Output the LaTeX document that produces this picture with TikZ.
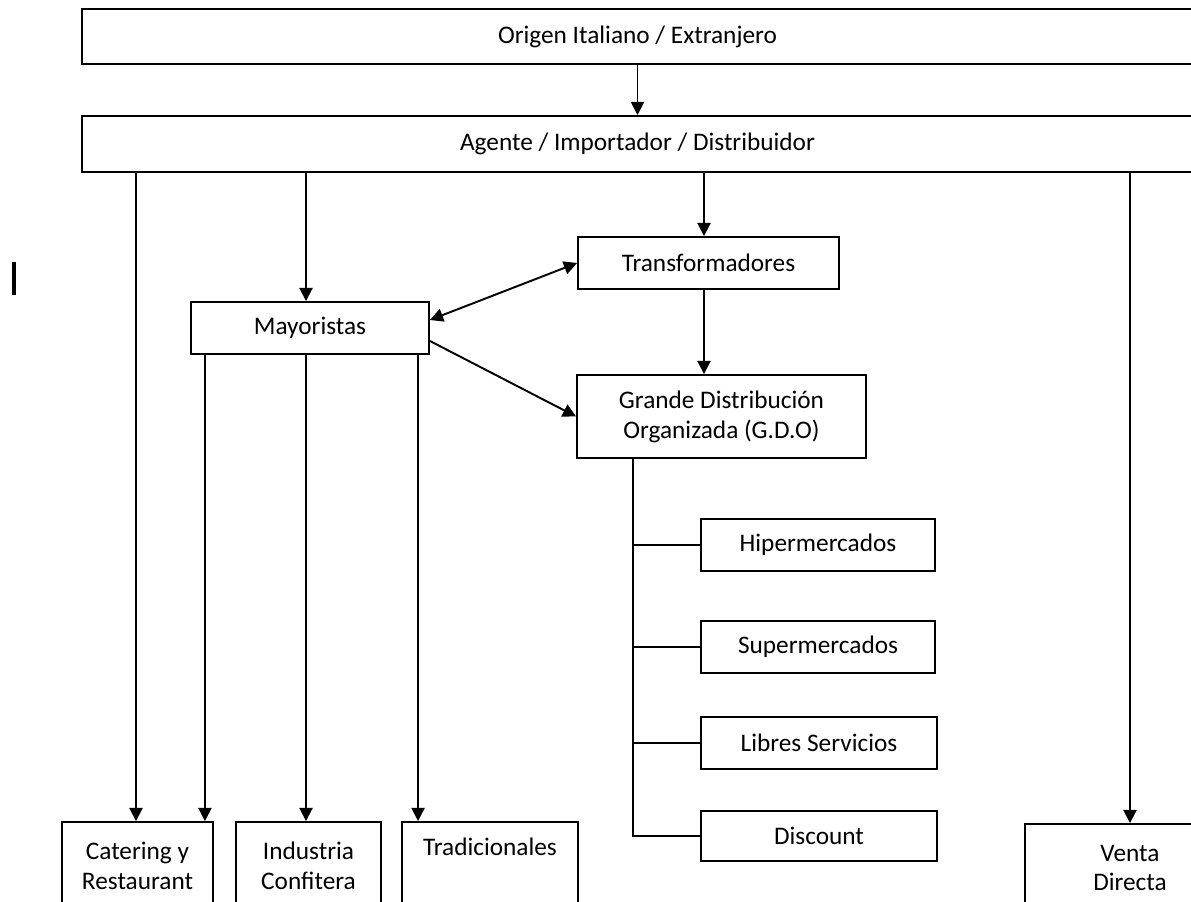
\documentclass[tikz,border=0pt]{standalone}
\usepackage{fontspec}
\setmainfont{Carlito}
\usetikzlibrary{arrows.meta}

\begin{document}
\begin{tikzpicture}[
        x=0.02cm, y=-0.02cm,
        box/.style={draw, rectangle, inner sep=0pt, align=center, line width=1.1pt, font=\fontsize{14.4}{17}\selectfont},
        flecha/.style={line width=1.1pt, -{Triangle[length=7.5pt, width=7.5pt]}},
        doble/.style={line width=1.1pt, {Triangle[length=7.5pt, width=7.5pt]}-{Triangle[length=7.5pt, width=7.5pt]}},
        linea/.style={line width=1.1pt}
    ]
    \useasboundingbox (0,0) rectangle (1191,902);
    \node[box, minimum width=22.22cm, minimum height=1.1cm] (origen) at (637.5,36.5) {Origen Italiano / Extranjero};
    \node[box, minimum width=22.22cm, minimum height=1.12cm] (agente) at (637.5,144) {Agente / Importador / Distribuidor};
    \node[box, minimum width=5.22cm, minimum height=1.04cm] (transformadores) at (708.5,263) {Transformadores};
    \node[box, minimum width=4.76cm, minimum height=1.04cm] (mayoristas) at (310,328) {Mayoristas};
    \node[box, minimum width=5.78cm, minimum height=1.66cm] (gdo) at (721.5,416.5) {Grande Distribución\\Organizada (G.D.O)};
    \node[box, minimum width=4.68cm, minimum height=1.04cm] (hiper) at (818,545) {Hipermercados};
    \node[box, minimum width=4.68cm, minimum height=1.04cm] (super) at (818,647) {Supermercados};
    \node[box, minimum width=4.72cm, minimum height=1.04cm] (libres) at (819,743) {Libres Servicios};
    \node[box, minimum width=4.72cm, minimum height=1.0cm] (discount) at (819,836) {Discount};
    \node[box, minimum width=3.02cm, minimum height=1.76cm] (catering) at (137.5,866) {Catering y\\Restaurant};
    \node[box, minimum width=2.9cm, minimum height=1.76cm] (industria) at (308.5,866) {Industria\\Confitera};
    \node[box, minimum width=3.52cm, minimum height=1.76cm] (tradicionales) at (490,866) {Tradicionales\\\strut};
    \node[box, minimum width=4.2cm, minimum height=1.76cm] (venta) at (1130,868) {Venta\\Directa};

    % flechas desde arriba
    \draw[flecha] (origen) -- (agente);
    \draw[flecha] ([xshift=-0.03cm]catering.north |- agente.south) -- ([xshift=-0.03cm]catering.north);
    \draw[flecha] ([xshift=-0.08cm]mayoristas.north |- agente.south) -- ([xshift=-0.08cm]mayoristas.north);
    \draw[flecha] ([xshift=-0.09cm]transformadores.north |- agente.south) -- ([xshift=-0.09cm]transformadores.north);
    \draw[flecha] (venta.north |- agente.south) -- (venta.north);
    \draw[flecha] ([xshift=-0.09cm]transformadores.south) -- ([xshift=-0.09cm]transformadores.south |- gdo.north);

    % mayoristas
    \draw[doble] ([yshift=0.16cm]mayoristas.east) -- (transformadores.west);
    \draw[flecha] ([yshift=-0.26cm]mayoristas.east) -- (gdo.west);
    \draw[flecha] ([xshift=-0.18cm]catering.north east |- mayoristas.south) -- ([xshift=-0.18cm]catering.north east);
    \draw[flecha] ([xshift=-0.05cm]industria.north |- mayoristas.south) -- ([xshift=-0.05cm]industria.north);
    \draw[flecha] ([xshift=0.34cm]tradicionales.north west |- mayoristas.south) -- ([xshift=0.34cm]tradicionales.north west);

    % ramas de la G.D.O
    \coordinate (tronco) at ([xshift=1.14cm]gdo.south west);
    \draw[linea] (tronco) |- (discount.west);
    \foreach \n in {hiper,super,libres}
        \draw[linea] (tronco |- \n.west) -- (\n.west);

    \draw[line width=1.8pt] (14,262) -- (14,295);
\end{tikzpicture}
\end{document}
